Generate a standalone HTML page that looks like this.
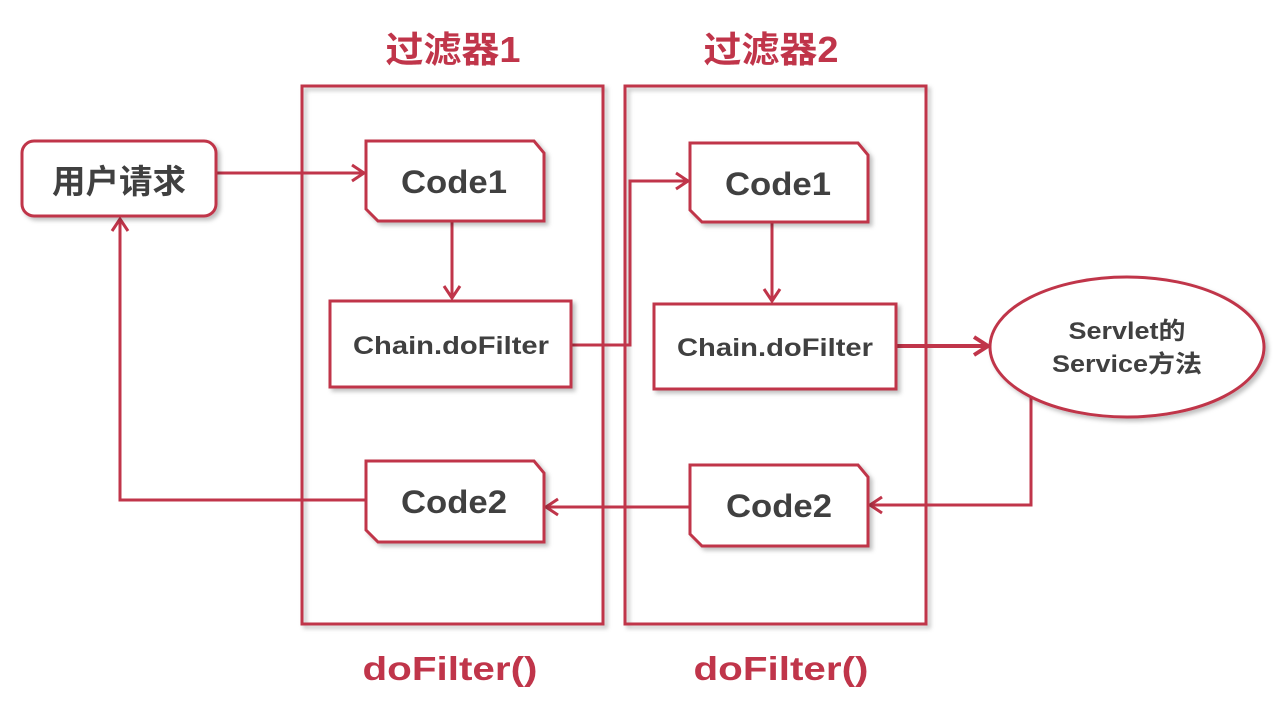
<!DOCTYPE html>
<html><head><meta charset="utf-8"><style>
html,body{margin:0;padding:0;background:#fff;}
svg{display:block;}
text{font-family:"Liberation Sans","Noto Sans CJK SC",sans-serif;font-weight:bold;}
</style></head><body>
<svg width="1280" height="720" viewBox="0 0 1280 720" xmlns="http://www.w3.org/2000/svg">
<defs>
<filter id="sh" x="-10%" y="-10%" width="130%" height="130%"><feDropShadow dx="3" dy="3" stdDeviation="2" flood-color="#000" flood-opacity="0.25"/></filter>
</defs>
<g fill="none" stroke="#c0354a" stroke-width="3">
<rect x="302" y="86" width="301" height="538" filter="url(#sh)"/>
<rect x="625" y="86" width="301" height="538" filter="url(#sh)"/>
<polyline points="216,173 364,173"/><polyline points="352,165 364,173 352,181"/>
<polyline points="452,221 452,298"/><polyline points="444,286 452,298 460,286"/>
<polyline points="571,345 630,345 630,181 688,181"/><polyline points="676,173 688,181 676,189"/>
<polyline points="772,222 772,301"/><polyline points="764,289 772,301 780,289"/>
<polyline points="896,346 988,346" stroke-width="4"/><polyline points="974,337 988,346 974,355" stroke-width="4"/>
<polyline points="1031,398 1031,505 870,505"/><polyline points="882,497 870,505 882,513"/>
<polyline points="690,507 546,507"/><polyline points="558,499 546,507 558,515"/>
<polyline points="366,500 120,500 120,219"/><polyline points="112,231 120,219 128,231"/>
<rect x="22" y="141" width="194" height="75" rx="12" fill="#fff" filter="url(#sh)"/>
<polygon points="366,141 534,141 544,153 544,221 378,221 366,209" fill="#fff" filter="url(#sh)"/>
<rect x="330" y="301" width="241" height="86" fill="#fff" filter="url(#sh)"/>
<polygon points="366,461 534,461 544,473 544,542 378,542 366,530" fill="#fff" filter="url(#sh)"/>
<polygon points="690,143 858,143 868,155 868,222 702,222 690,210" fill="#fff" filter="url(#sh)"/>
<rect x="654" y="304" width="242" height="85" fill="#fff" filter="url(#sh)"/>
<polygon points="690,465 858,465 868,477 868,546 702,546 690,534" fill="#fff" filter="url(#sh)"/>
<ellipse cx="1127" cy="347" rx="137" ry="70" fill="#fff" filter="url(#sh)"/>
</g>
<g fill="#c0354a" text-anchor="middle">
<text x="453" y="62" font-size="36" textLength="135" lengthAdjust="spacingAndGlyphs">过滤器1</text>
<text x="771" y="62" font-size="36" textLength="135" lengthAdjust="spacingAndGlyphs">过滤器2</text>
<text x="450" y="680" font-size="33" textLength="175" lengthAdjust="spacingAndGlyphs">doFilter()</text>
<text x="781" y="680" font-size="33" textLength="175" lengthAdjust="spacingAndGlyphs">doFilter()</text>
</g>
<g fill="#404040" text-anchor="middle">
<text x="119" y="193" font-size="33" textLength="134" lengthAdjust="spacingAndGlyphs">用户请求</text>
<text x="454" y="193" font-size="32" textLength="106" lengthAdjust="spacingAndGlyphs">Code1</text>
<text x="778" y="195" font-size="32" textLength="106" lengthAdjust="spacingAndGlyphs">Code1</text>
<text x="454" y="513" font-size="32" textLength="106" lengthAdjust="spacingAndGlyphs">Code2</text>
<text x="779" y="517" font-size="32" textLength="106" lengthAdjust="spacingAndGlyphs">Code2</text>
<text x="451" y="354" font-size="25" textLength="196" lengthAdjust="spacingAndGlyphs">Chain.doFilter</text>
<text x="775" y="356" font-size="25" textLength="196" lengthAdjust="spacingAndGlyphs">Chain.doFilter</text>
<text x="1127" y="339" font-size="24" textLength="117" lengthAdjust="spacingAndGlyphs">Servlet的</text>
<text x="1127" y="372" font-size="24" textLength="150" lengthAdjust="spacingAndGlyphs">Service方法</text>
</g>
</svg>
</body></html>
